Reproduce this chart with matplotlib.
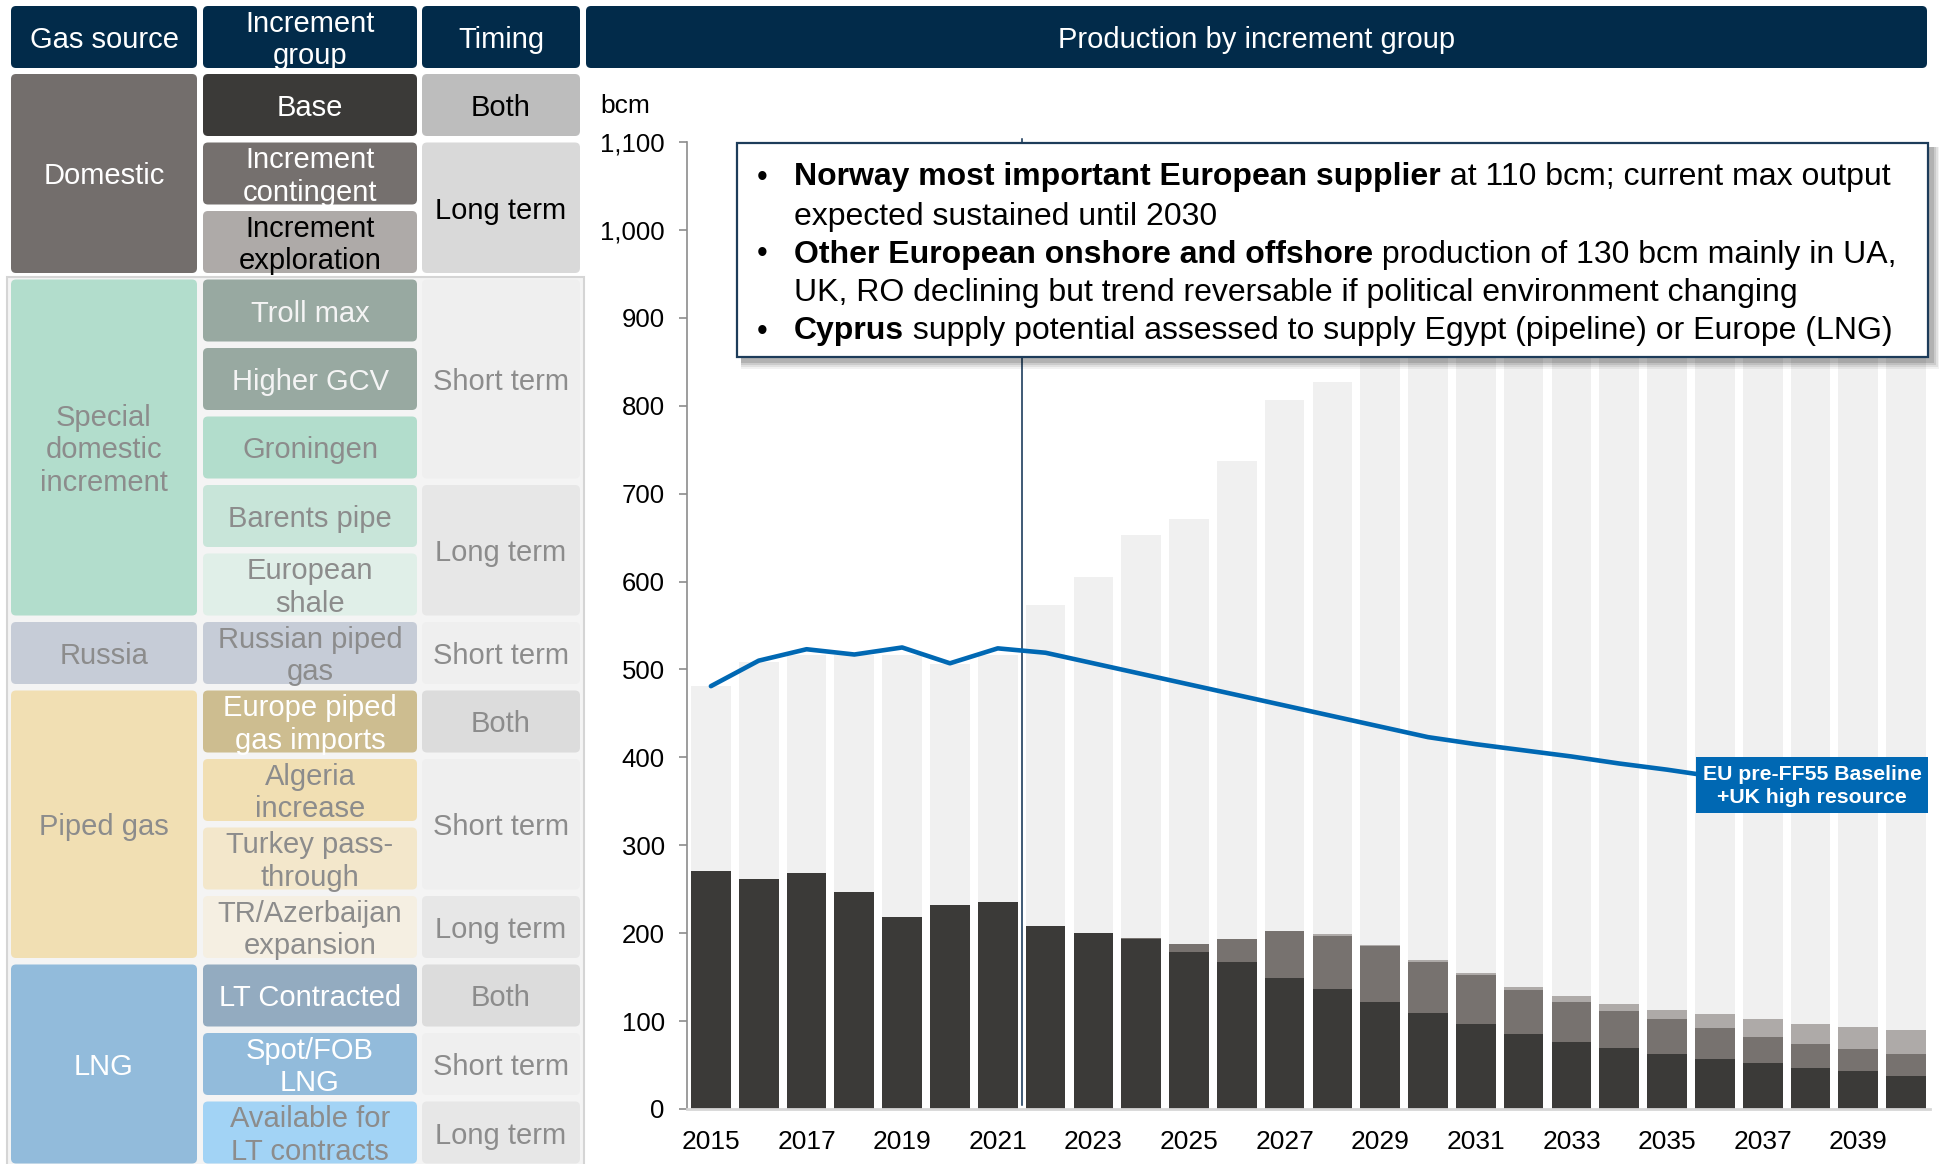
import matplotlib
matplotlib.use('Agg')
import matplotlib.pyplot as plt
from matplotlib.patches import FancyBboxPatch, Rectangle

plt.rcParams['font.family'] = ['Liberation Sans', 'DejaVu Sans']

W, H = 1939, 1164

# --- chart data (bcm) ---
years = list(range(2015, 2041))
base = [271, 262, 268, 247, 218, 232, 236, 208, 200, 193, 179, 167, 149,
        136, 122, 109, 97, 85, 76, 69, 63, 57, 52, 47, 43, 38]
contingent = [0, 0, 0, 0, 0, 0, 0, 0, 0, 2, 9, 26, 53,
              61, 63, 58, 55, 50, 46, 42, 39, 35, 30, 27, 25, 25]
exploration = [0, 0, 0, 0, 0, 0, 0, 0, 0, 0, 0, 0, 0,
               2, 2, 2, 3, 4, 6, 8, 11, 16, 20, 23, 25, 27]
potential_total = [481, 509, 517, 516, 517, 506, 516, 573, 605, 653, 671, 737, 807,
                   827, 868, 905, 930, 955, 975, 990, 1000, 1010, 1020, 1030, 1040, 1050]

baseline_years = list(range(2015, 2037))
baseline = [481, 510, 523, 517, 525, 507, 524, 519, 507, 495, 483, 471, 459,
            447, 435, 423, 415, 408, 401, 393, 386, 378]

year_labels = list(range(2015, 2040, 2))
yticks = list(range(0, 1101, 100))

# --- table content ---
headers = ['Gas source', 'Increment\ngroup', 'Timing']
sources = ['Domestic', 'Special\ndomestic\nincrement', 'Russia', 'Piped gas', 'LNG']
source_rows = [(0, 2), (3, 7), (8, 8), (9, 12), (13, 15)]
increments = ['Base', 'Increment\ncontingent', 'Increment\nexploration', 'Troll max',
              'Higher GCV', 'Groningen', 'Barents pipe', 'European\nshale',
              'Russian piped\ngas', 'Europe piped\ngas imports', 'Algeria\nincrease',
              'Turkey pass-\nthrough', 'TR/Azerbaijan\nexpansion', 'LT Contracted',
              'Spot/FOB\nLNG', 'Available for\nLT contracts']
timings = ['Both', 'Long term', 'Short term', 'Long term', 'Short term', 'Both',
           'Short term', 'Long term', 'Both', 'Short term', 'Long term']
timing_rows = [(0, 0), (1, 2), (3, 5), (6, 7), (8, 8), (9, 9), (10, 11), (12, 12),
               (13, 13), (14, 14), (15, 15)]

NAVY = '#022b4a'
GREY_TXT = '#8c8c8c'
source_style = [('#736e6c', 'white'), ('#b2ddcc', GREY_TXT), ('#c6ccd7', GREY_TXT),
                ('#f1dfb3', GREY_TXT), ('#92bbdb', 'white')]
inc_style = [('#3b3a38', 'white'), ('#75706e', 'white'), ('#aeaaa8', 'black'),
             ('#98a9a1', '#f4f4f4'), ('#98a9a1', '#f4f4f4'), ('#b2ddcc', GREY_TXT),
             ('#c8e5d9', GREY_TXT), ('#e0efe8', GREY_TXT), ('#c6ccd7', GREY_TXT),
             ('#cdbd90', 'white'), ('#f1dfb3', GREY_TXT), ('#f3e7cb', GREY_TXT),
             ('#f5efe2', GREY_TXT), ('#93abc0', 'white'), ('#92bbdb', 'white'),
             ('#a2d3f5', GREY_TXT)]
timing_style = [('#bdbdbd', 'black'), ('#d9d9d9', 'black'), ('#efefef', GREY_TXT),
                ('#e7e7e7', GREY_TXT), ('#efefef', GREY_TXT), ('#dcdcdc', GREY_TXT),
                ('#efefef', GREY_TXT), ('#e7e7e7', GREY_TXT), ('#dcdcdc', GREY_TXT),
                ('#efefef', GREY_TXT), ('#e7e7e7', GREY_TXT)]

fig = plt.figure(figsize=(W / 100, H / 100), dpi=100)

# background layer in pixel coordinates
bg = fig.add_axes([0, 0, 1, 1])
bg.set_xlim(0, W)
bg.set_ylim(H, 0)
bg.axis('off')


def cell(ax, x0, x1, y0, y1, fc, text='', tc='white', size=21, r=5):
    ax.add_patch(FancyBboxPatch((x0, y0), x1 - x0, y1 - y0,
                                boxstyle=f'round,pad=0,rounding_size={r}',
                                fc=fc, ec='none'))
    if text:
        ax.text((x0 + x1) / 2, (y0 + y1) / 2 + 3, text, color=tc, fontsize=size,
                ha='center', va='center', linespacing=1.2)


def row_top(i):
    return 74 + i * 68.5


def row_bot(i):
    return row_top(i) + 62


cols = [(11, 197), (203, 417), (422, 580)]

# header row
for (x0, x1), h in zip(cols, headers):
    cell(bg, x0, x1, 6, 68, NAVY, h, 'white')
cell(bg, 586, 1927, 6, 68, NAVY, 'Production by increment group', 'white')

# light frame behind the non-domestic rows
bg.add_patch(Rectangle((7, 277), 577, 895, fc='#f4f4f4', ec='#d5d5d5', lw=1.5))

for name, (r0, r1), (fc, tc) in zip(sources, source_rows, source_style):
    cell(bg, cols[0][0], cols[0][1], row_top(r0), row_bot(r1), fc, name, tc)
for i, (name, (fc, tc)) in enumerate(zip(increments, inc_style)):
    cell(bg, cols[1][0], cols[1][1], row_top(i), row_bot(i), fc, name, tc)
for name, (r0, r1), (fc, tc) in zip(timings, timing_rows, timing_style):
    cell(bg, cols[2][0], cols[2][1], row_top(r0), row_bot(r1), fc, name, tc)

# --- chart ---
ax = fig.add_axes([687 / W, 1 - 1109 / H, (1930 - 687) / W, (1109 - 142) / H])
ax.set_facecolor('none')

bw = 0.83
bottom2 = [b + c for b, c in zip(base, contingent)]
bottom3 = [b + e for b, e in zip(bottom2, exploration)]
other = [t - b for t, b in zip(potential_total, bottom3)]
ax.bar(years, base, width=bw, color='#3b3a38', zorder=2)
ax.bar(years, contingent, width=bw, bottom=base, color='#77726f', zorder=2)
ax.bar(years, exploration, width=bw, bottom=bottom2, color='#aeaaa8', zorder=2)
ax.bar(years, other, width=bw, bottom=bottom3, color='#f0f0f0', zorder=2)

ax.plot([2021.5, 2021.5], [5, 1103], color='#0b2d4f', lw=1.1, zorder=3, clip_on=False)
ax.plot(baseline_years, baseline, color='#0068b3', lw=3.3, zorder=4,
        solid_capstyle='round', solid_joinstyle='round')

ax.set_xlim(2014.5, 2040.5)
ax.set_ylim(0, 1100)
ax.set_yticks(yticks)
ax.set_yticklabels([f'{v:,}' for v in yticks])
ax.set_xticks(year_labels)
ax.set_xticklabels([str(y) for y in year_labels])
ax.tick_params(axis='y', direction='out', length=6, width=1.2, color='#8c8c8c',
               labelsize=18.5, pad=10)
ax.tick_params(axis='x', length=0, labelsize=19, pad=15)
for s in ['top', 'right']:
    ax.spines[s].set_visible(False)
ax.spines['left'].set_color('#8c8c8c')
ax.spines['left'].set_linewidth(1.2)
ax.spines['bottom'].set_color('#d6d6d6')
ax.spines['bottom'].set_linewidth(2)

bg.text(600, 106, 'bcm', fontsize=19, ha='left', va='center')

# --- overlay: commentary box and line label ---
ov = fig.add_axes([0, 0, 1, 1], zorder=5)
ov.set_xlim(0, W)
ov.set_ylim(H, 0)
ov.axis('off')
ov.patch.set_alpha(0)

bx0, by0, bx1, by1 = 737, 143, 1928, 357
for i, a in enumerate([0.05, 0.07, 0.09, 0.12]):
    s = 8 - 2 * i
    ov.add_patch(Rectangle((bx0 + 4, by0 + 4), bx1 - bx0 + s, by1 - by0 + s,
                           fc='black', ec='none', alpha=a))
ov.add_patch(Rectangle((bx0, by0), bx1 - bx0, by1 - by0, fc='white',
                       ec='#1d3c5a', lw=1.6))

box_lines = [
    [('Norway most important European supplier', True),
     (' at 110 bcm; current max output', False)],
    [('expected sustained until 2030', False)],
    [('Other European onshore and offshore', True),
     (' production of 130 bcm mainly in UA,', False)],
    [('UK, RO declining but trend reversable if political environment changing', False)],
    [('Cyprus', True),
     (' supply potential assessed to supply Egypt (pipeline) or Europe (LNG)', False)],
]
bullet_lines = [0, 2, 4]
line_y = [174, 213, 251, 290, 328]

renderer = fig.canvas.get_renderer()
for k, (segs, y) in enumerate(zip(box_lines, line_y)):
    if k in bullet_lines:
        ov.text(762, y, '•', fontsize=22, ha='center', va='center_baseline')
    x = 794
    for txt, bold in segs:
        t = ov.text(x, y, txt, fontsize=23, ha='left', va='center_baseline',
                    fontweight='bold' if bold else 'normal')
        x += t.get_window_extent(renderer).width

ov.add_patch(Rectangle((1696, 757), 232, 56, fc='#0068b3', ec='none'))
ov.text(1812, 786, 'EU pre-FF55 Baseline\n+UK high resource', color='white',
        fontsize=15.3, fontweight='bold', ha='center', va='center', linespacing=1.3)

fig.savefig('out.png', dpi=100)
